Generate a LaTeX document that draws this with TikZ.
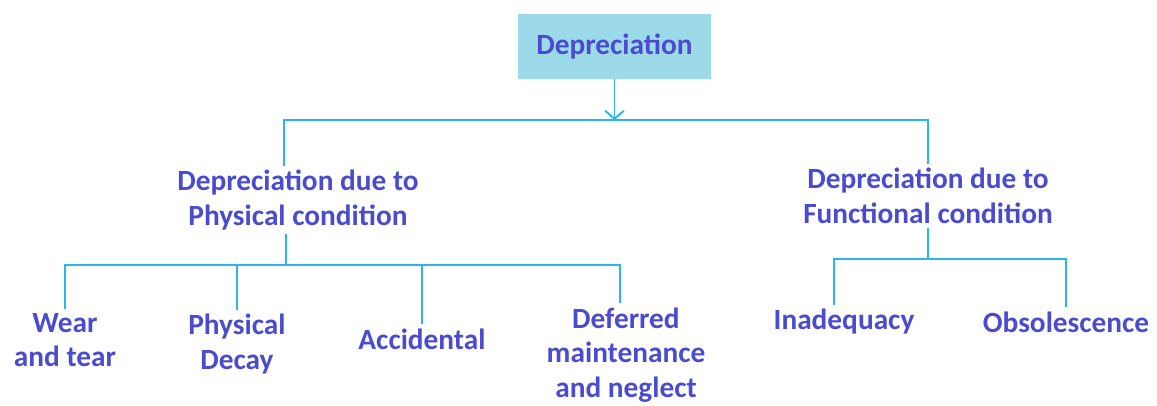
\documentclass[tikz,border=0pt]{standalone}
\usepackage{fontspec}
\setmainfont{Carlito}
\usetikzlibrary{arrows.meta}
\definecolor{txtblue}{HTML}{4B4BCF}
\definecolor{lineblue}{HTML}{2BB5E8}
\definecolor{boxblue}{HTML}{9CDAEA}
\tikzset{>={Straight Barb[length=6pt,width=14pt]}}

\begin{document}
\begin{tikzpicture}[x=0.75pt,y=-0.75pt,
    conn/.style={draw=lineblue, line width=1.4pt},
    lbl/.style={text=txtblue, font=\bfseries\fontsize{22}{26}\selectfont,
        align=center, inner sep=3pt}]
    \useasboundingbox (0,0) rectangle (1157,406);
    % top level
    \node[lbl, fill=boxblue, minimum width=144.75pt, minimum height=48.75pt,
        inner sep=0pt] (root) at (614.5,46.5) {Depreciation};
    \node[lbl] (physcond) at (298,200) {Depreciation due to\\Physical condition};
    \node[lbl] (funccond) at (928,196) {Depreciation due to\\Functional condition};
    % leaves
    \node[lbl] (wear) at (65,340) {Wear\\and tear};
    \node[lbl] (decay) at (237,344) {Physical\\Decay};
    \node[lbl] (accid) at (422,339) {Accidental};
    \node[lbl] (defer) at (626,355) {Deferred\\maintenance\\and neglect};
    \node[lbl] (inadeq) at (844,322) {Inadequacy};
    \node[lbl] (obsol) at (1066,322) {Obsolescence};
    % buses
    \coordinate (topbus) at (614.5,120);
    \coordinate (lbus) at (286,265);
    \coordinate (rbus) at (932,259);
    \draw[conn,->] (root) -- (topbus);
    \draw[conn] ([xshift=-10.5pt]physcond.north) |- (topbus) -| (funccond.north);
    \draw[conn] ([xshift=-9pt]physcond.south) -- (lbus);
    \draw[conn] (wear.north) |- (lbus) -| ([xshift=-4.5pt]defer.north);
    \draw[conn] (decay.north) -- (decay.north|-lbus);
    \draw[conn] (accid.north) -- (accid.north|-lbus);
    \draw[conn] (funccond.south) -- (funccond.south|-rbus);
    \draw[conn] ([xshift=-7.5pt]inadeq.north) |- (rbus) -| (obsol.north);
\end{tikzpicture}
\end{document}
